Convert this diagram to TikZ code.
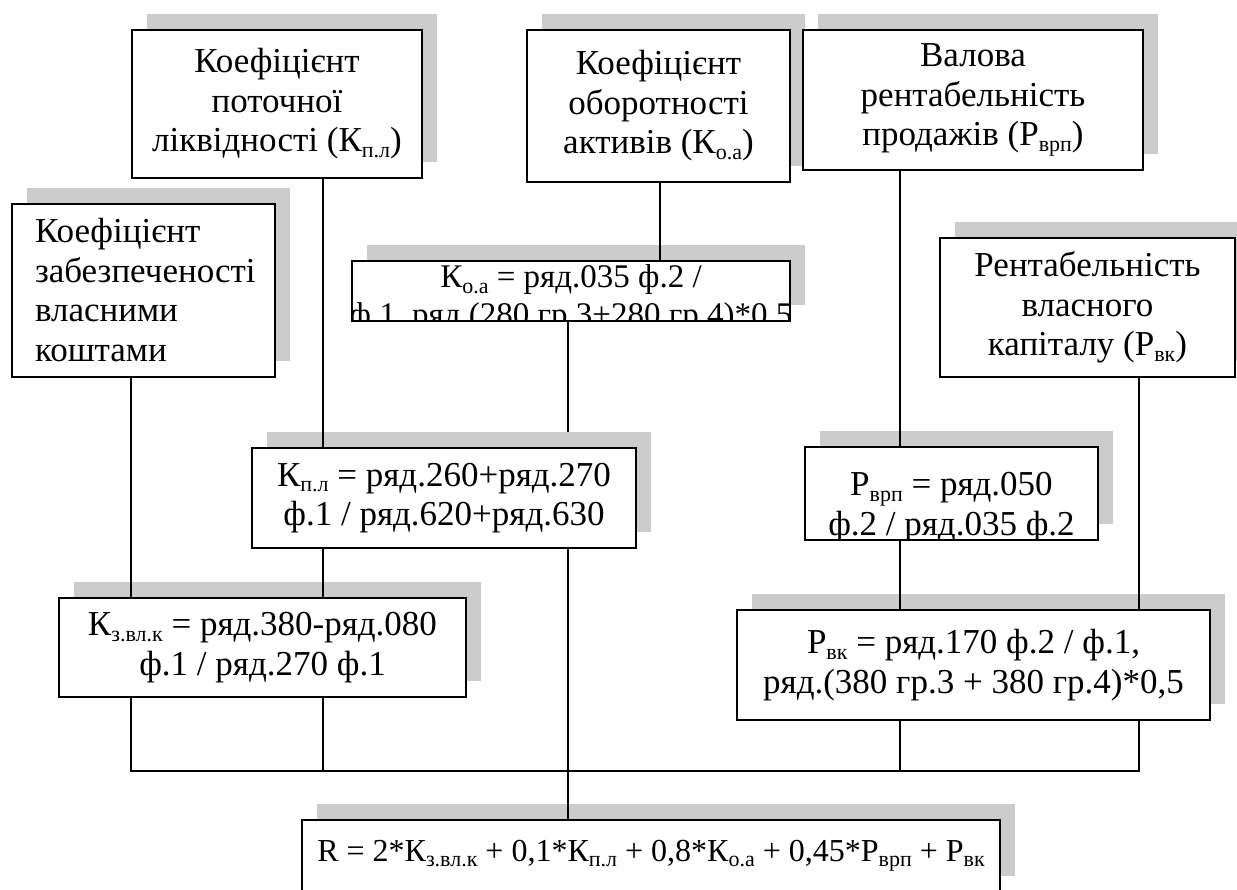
\documentclass[tikz,border=0pt]{standalone}
\usepackage{fontspec}
\setmainfont{Liberation Serif}
\usetikzlibrary{shadows}
\newcommand{\subx}[1]{\raisebox{-0.35ex}{\fontsize{11}{12}\selectfont #1}}
\tikzset{
  txt/.style={font=\fontsize{17.5}{19.75}\selectfont},
  blok/.style={draw, line width=1pt, fill=white, inner sep=0pt, align=center, txt,
    drop shadow={shadow xshift=7.5pt, shadow yshift=8pt, opacity=1, fill=gray!40, draw=none}},
  wh/.style 2 args={minimum width=#1*0.5pt, minimum height=#2*0.5pt},
  lnk/.style={line width=0.8pt},
}
\begin{document}
\begin{tikzpicture}[x=0.5pt,y=-0.5pt]
 \useasboundingbox (0,0) rectangle (1237,889);
 % upper row
 \node[blok, wh={290}{148}] (kpl) at (277,104) {Коефіцієнт\\поточної\\ліквідності (К\subx{п.л})};
 \node[blok, wh={263}{152}] (koa) at (658.5,106) {Коефіцієнт\\оборотності\\активів (К\subx{о.а})};
 \node[blok, wh={340}{140}] (val) at (973,100) {Валова\\рентабельність\\продажів (Р\subx{врп})};
 \node[blok, wh={263}{173}, text width=217*0.5pt, align=left] (zab) at (143.5,290) {Коефіцієнт\\забезпеченості\\власними\\коштами};
 \node[blok, wh={295}{139}] (rvk) at (1087.5,307.5) {Рентабельність\\власного\\капіталу (Р\subx{вк})};
 % formulas
 \node[blok, wh={438}{60}, path picture={
   \node[txt, anchor=north, align=center, inner sep=0pt, font=\fontsize{16.5}{19}\selectfont] at ([yshift=-1.5pt]path picture bounding box.north)
     {К\subx{о.а} = ряд.035 ф.2 /\\ф.1, ряд.(280 гр.3+280 гр.4)*0,5};}] (koaf) at (571,291) {};
 \node[blok, wh={293}{93}, path picture={
   \node[txt, anchor=north, align=center, inner sep=0pt] at ([yshift=-6.5pt]path picture bounding box.north)
     {Р\subx{врп} = ряд.050\\ф.2 / ряд.035 ф.2};}] (rvrpf) at (951.5,493.5) {};
 \node[blok, wh={407}{99}] (zvlkf) at (262.5,647.5) {К\subx{з.вл.к} = ряд.380-ряд.080\\ф.1 / ряд.270 ф.1};
 \node[blok, wh={473}{110}] (rvkf) at (973.5,665) {Р\subx{вк} = ряд.170 ф.2 / ф.1,\\ряд.(380 гр.3 + 380 гр.4)*0,5};
 \node[blok, wh={698}{72}, font=\fontsize{16}{19}\selectfont] (res) at (651,856) {R = 2*К\subx{з.вл.к} + 0,1*К\subx{п.л} + 0,8*К\subx{о.а} + 0,45*Р\subx{врп} + Р\subx{вк}};
 % columns of the links
 \coordinate (c1) at (131,0);
 \coordinate (c2) at (323,0);
 \coordinate (c3) at (568,0);
 \coordinate (c4) at (660,0);
 \coordinate (c5) at (900,0);
 \coordinate (c6) at (1139,0);
 \coordinate (bus) at (0,771);
 \draw[lnk] (koaf.south -| c3) -- (res.north -| c3);
 % this box lies over the long link
 \node[blok, wh={384}{100}] (kplf) at (444,498) {К\subx{п.л} = ряд.260+ряд.270\\ф.1 / ряд.620+ряд.630};
 \draw[lnk] (zab.south -| c1) -- (zvlkf.north -| c1);
 \draw[lnk] (kpl.south -| c2) -- (kplf.north -| c2);
 \draw[lnk] (kplf.south -| c2) -- (zvlkf.north -| c2);
 \draw[lnk] (koa.south -| c4) -- (koaf.north -| c4);
 \draw[lnk] (val.south -| c5) -- (rvrpf.north -| c5);
 \draw[lnk] (rvrpf.south -| c5) -- (rvkf.north -| c5);
 \draw[lnk] (rvk.south -| c6) -- (rvkf.north -| c6);
 \draw[lnk] (zvlkf.south -| c1) |- (bus -| c6) -- (rvkf.south -| c6);
 \draw[lnk] (zvlkf.south -| c2) -- (bus -| c2);
 \draw[lnk] (rvkf.south -| c5) -- (bus -| c5);
\end{tikzpicture}
\end{document}
